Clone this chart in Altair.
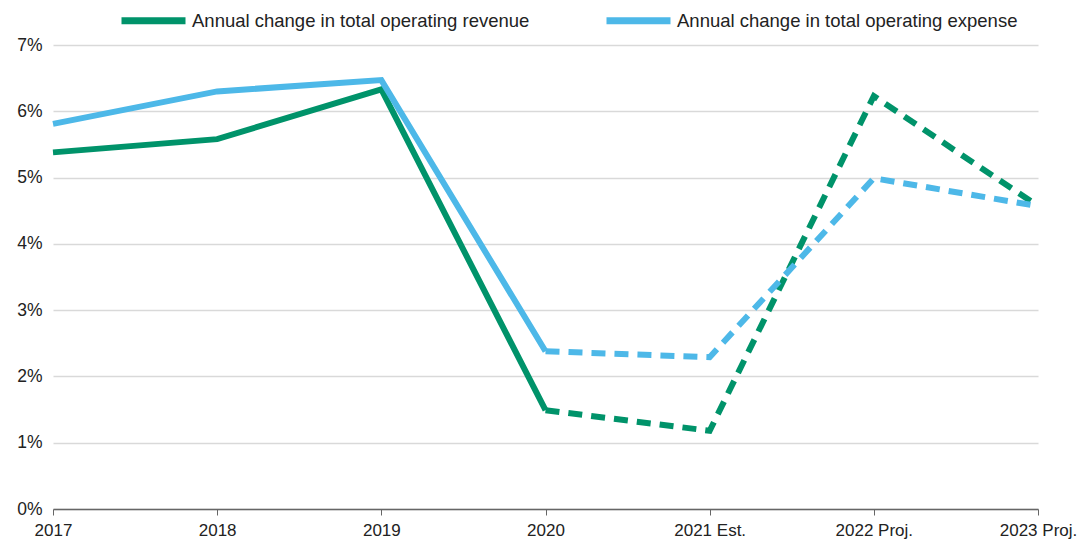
import altair as alt
import pandas as pd

years = ["2017", "2018", "2019", "2020", "2021 Est.", "2022 Proj.", "2023 Proj."]
revenue = [5.38, 5.58, 6.33, 1.49, 1.18, 6.23, 4.57]
expense = [5.81, 6.30, 6.47, 2.38, 2.29, 4.99, 4.57]
series_names = ["Annual change in total operating revenue", "Annual change in total operating expense"]
colors = ["#00936A", "#4DB8E8"]

rows = []
for name, vals in zip(series_names, [revenue, expense]):
    for i, (y, v) in enumerate(zip(years, vals)):
        if i <= 3:
            rows.append({"series": name, "year": y, "value": v, "seg": "actual"})
        if i >= 3:
            rows.append({"series": name, "year": y, "value": v, "seg": "projected"})
df = pd.DataFrame(rows)

FONT = "Liberation Sans"

x = alt.X("year:N", sort=years, title=None,
          scale=alt.Scale(type="point", padding=0),
          axis=alt.Axis(labelAngle=0, labelFontSize=17, labelColor="#222", labelFont=FONT,
                        domainColor="#666", domainWidth=1.5, tickColor="#666", tickSize=6,
                        labelPadding=7, grid=False, labelBound=False))
y = alt.Y("value:Q", title=None,
          scale=alt.Scale(domain=[0, 7], nice=False),
          axis=alt.Axis(values=[0, 1, 2, 3, 4, 5, 6, 7], labelExpr="datum.value + '%'",
                        labelFontSize=17.5, labelColor="#222", labelFont=FONT,
                        domain=False, ticks=False, labelPadding=11,
                        gridColor="#d9d9d9", gridWidth=1.3))
legend = alt.Legend(title=None, orient="none", direction="horizontal",
                    legendX=65, legendY=-60,
                    symbolType="stroke", symbolStrokeWidth=7, symbolSize=4096,
                    labelFontSize=18.5, labelFont=FONT, labelColor="#222",
                    labelLimit=500, columnPadding=62, labelOffset=3)
color = alt.Color("series:N", sort=series_names,
                  scale=alt.Scale(domain=series_names, range=colors),
                  legend=legend)

solid = alt.Chart(df).transform_filter(alt.datum.seg == "actual").mark_line(
    strokeWidth=6, strokeJoin="miter").encode(x=x, y=y, color=color)
dashed = alt.Chart(df).transform_filter(alt.datum.seg == "projected").mark_line(
    strokeWidth=6, strokeDash=[14, 9], strokeJoin="miter").encode(x=x, y=y, color=color)

chart = alt.layer(dashed, solid).properties(
    width=985, height=464,
    padding={"left": 45, "top": 37, "right": 40, "bottom": 30},
    autosize=alt.AutoSizeParams(type="none"),
    view=alt.ViewBackground(stroke="transparent", strokeWidth=0),
).configure_view(strokeWidth=0, stroke="transparent").configure_axisX(grid=False).configure(font=FONT)

chart.save("out.html", embed_options={"renderer": "svg", "actions": False})
